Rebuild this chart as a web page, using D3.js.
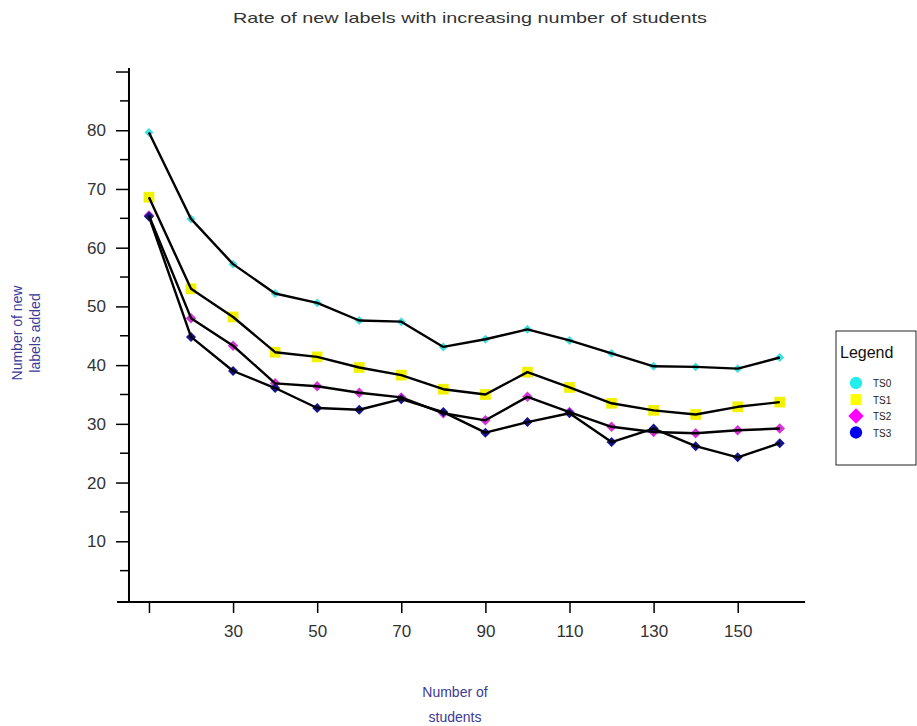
<!DOCTYPE html>
<html>
<head>
<meta charset="utf-8">
<script src="https://cdn.jsdelivr.net/npm/d3@7"></script>
<style>
  body { margin: 0; background: #fff; }
  text { font-family: "Liberation Sans", Arial, sans-serif; }
</style>
</head>
<body>
<div id="chart"></div>
<script>
// Data
const students = [10, 20, 30, 40, 50, 60, 70, 80, 90, 100, 110, 120, 130, 140, 150, 160];
const ts0 = [79.6, 64.9, 57.2, 52.2, 50.6, 47.6, 47.4, 43.1, 44.4, 46.1, 44.2, 42.0, 39.8, 39.7, 39.4, 41.3];
const ts1 = [68.6, 53.0, 48.2, 42.2, 41.4, 39.6, 38.3, 35.9, 35.0, 38.8, 36.2, 33.5, 32.3, 31.6, 32.9, 33.7];
const ts2 = [65.5, 48.0, 43.3, 36.9, 36.4, 35.3, 34.5, 31.8, 30.6, 34.6, 32.0, 29.5, 28.6, 28.4, 28.9, 29.2];
const ts3 = [65.3, 44.8, 39.0, 36.1, 32.7, 32.4, 34.2, 32.0, 28.5, 30.3, 31.8, 26.9, 29.2, 26.2, 24.3, 26.7];
const seriesNames = ["TS0", "TS1", "TS2", "TS3"];
const xTicks = [10, 30, 50, 70, 90, 110, 130, 150];
const yMajor = [10, 20, 30, 40, 50, 60, 70, 80, 90];
const yMinor = [5, 15, 25, 35, 45, 55, 65, 75, 85];

const width = 917, height = 726;

// rot: rotate a square 45deg to get an even diamond
const styles = [
    { color: "#3fe0e0", legendColor: "#22eeee", shape: d3.symbolSquare, rot: 45, size: 40, legendShape: d3.symbolCircle, legendRot: 0 },
    { color: "#f2f200", legendColor: "#ffff00", shape: d3.symbolSquare, rot: 0, size: 115, legendShape: d3.symbolSquare, legendRot: 0 },
    { color: "#d633d6", legendColor: "#ff00ff", shape: d3.symbolSquare, rot: 45, size: 55, legendShape: d3.symbolSquare, legendRot: 45 },
    { color: "#14148c", legendColor: "#0000ee", shape: d3.symbolSquare, rot: 45, size: 50, legendShape: d3.symbolCircle, legendRot: 0 }
];

const allSeries = [ts0, ts1, ts2, ts3].map((vals, i) => ({
    name: seriesNames[i],
    style: styles[i],
    points: vals.map((v, j) => ({ x: students[j], y: v }))
}));

const svg = d3.select("#chart").append("svg")
    .attr("width", width)
    .attr("height", height);

// Scales (y-axis sits at x=128, x-axis at y=602)
const x = d3.scaleLinear().domain([2.4, 166]).range([117, 805]);
const y = d3.scaleLinear().domain([-0.34, 90.6]).range([602, 68]);

// Title
svg.append("text")
    .attr("x", 470).attr("y", 23)
    .attr("text-anchor", "middle")
    .attr("textLength", 474)
    .attr("lengthAdjust", "spacingAndGlyphs")
    .style("font-size", "15px")
    .style("fill", "#333")
    .text("Rate of new labels with increasing number of students");

// X axis
const xAxis = svg.append("g")
    .attr("transform", `translate(0,${y(-0.34)})`)
    .call(d3.axisBottom(x)
        .tickValues(xTicks)
        .tickSize(11)
        .tickPadding(12)
        .tickFormat(d => d === 10 ? "" : d));
xAxis.select(".domain").attr("d", `M117,0H805`).attr("stroke-width", 2);

// Y axis
const yAxis = svg.append("g")
    .attr("transform", `translate(${x(5.25)},0)`)
    .call(d3.axisLeft(y)
        .tickValues(yMajor)
        .tickSize(13)
        .tickPadding(10)
        .tickFormat(d => d === 90 ? "" : d));
yAxis.select(".domain").attr("d", `M0,${y(-0.34)}V${y(90.6)}`).attr("stroke-width", 2);
yAxis.append("g").selectAll("line")
    .data(yMinor)
    .enter().append("line")
    .attr("x1", -9).attr("x2", 0)
    .attr("y1", d => y(d)).attr("y2", d => y(d))
    .attr("stroke", "#000")
    .attr("stroke-width", 1.5);

svg.selectAll(".tick line").attr("stroke-width", 1.5);
svg.selectAll(".tick text")
    .style("font-size", "17px")
    .style("font-family", "'Liberation Sans', Arial, sans-serif")
    .style("fill", "#333");

// Axis titles
const axisTitleColor = "#3b3b96";
svg.append("text")
    .attr("text-anchor", "middle")
    .style("font-size", "14px")
    .style("fill", axisTitleColor)
    .selectAll("tspan")
    .data(["Number of", "students"])
    .enter().append("tspan")
    .attr("x", 455)
    .attr("y", (d, i) => 697 + i * 25)
    .text(d => d);

svg.append("text")
    .attr("transform", "translate(26,333) rotate(-90)")
    .attr("text-anchor", "middle")
    .style("font-size", "14px")
    .style("fill", axisTitleColor)
    .selectAll("tspan")
    .data(["Number of new", "labels added"])
    .enter().append("tspan")
    .attr("x", 0)
    .attr("y", (d, i) => -4 + i * 18)
    .text(d => d);

// Markers first, black lines on top
const plot = svg.append("g");
allSeries.forEach(s => {
    plot.append("g").selectAll("path")
        .data(s.points)
        .enter().append("path")
        .attr("d", d3.symbol().type(s.style.shape).size(s.style.size))
        .attr("transform", d => `translate(${x(d.x)},${y(d.y)}) rotate(${s.style.rot})`)
        .attr("fill", s.style.color);
});

const line = d3.line().x(d => x(d.x)).y(d => y(d.y));
allSeries.forEach(s => {
    plot.append("path")
        .datum(s.points)
        .attr("d", line)
        .attr("fill", "none")
        .attr("stroke", "#000")
        .attr("stroke-width", 2.4)
        .attr("stroke-linejoin", "round");
});

// Legend
const legend = svg.append("g").attr("transform", "translate(836,331)");
legend.append("rect")
    .attr("width", 80).attr("height", 134)
    .attr("fill", "#fff")
    .attr("stroke", "#222")
    .attr("stroke-width", 1);
legend.append("text")
    .attr("x", 4).attr("y", 27)
    .style("font-size", "16px")
    .style("fill", "#111")
    .text("Legend");
const items = legend.selectAll(".item")
    .data(allSeries)
    .enter().append("g")
    .attr("class", "item")
    .attr("transform", (d, i) => `translate(20,${52 + i * 16.5})`);
items.append("path")
    .attr("d", d => d3.symbol().type(d.style.legendShape).size(120)())
    .attr("transform", d => `rotate(${d.style.legendRot})`)
    .attr("fill", d => d.style.legendColor);
items.append("text")
    .attr("x", 17).attr("y", 4)
    .style("font-size", "10px")
    .style("fill", "#222")
    .text(d => d.name);
</script>
</body>
</html>
